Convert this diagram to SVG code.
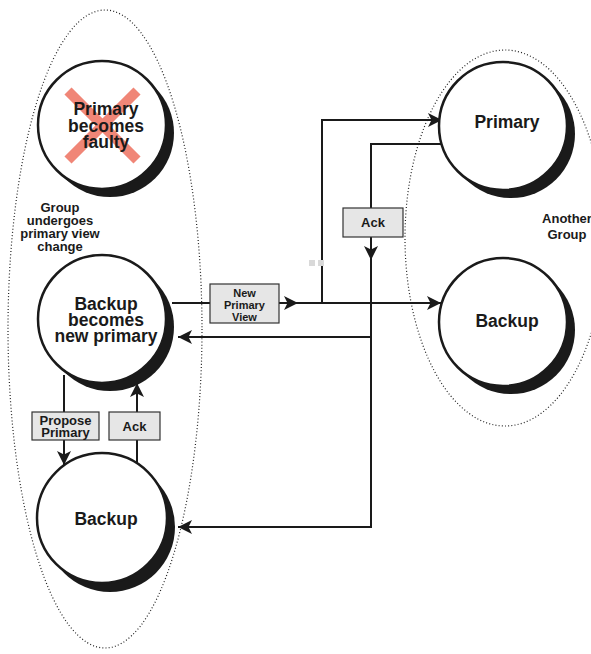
<svg xmlns="http://www.w3.org/2000/svg" width="591" height="654" viewBox="0 0 591 654">
<defs>
<style>
.grp{fill:none;stroke:#222;stroke-width:1.2;stroke-dasharray:1 2.2}
.shadow{fill:#1a1a1a}
.node{fill:#fff;stroke:#1a1a1a;stroke-width:2.5}
.big{font-family:"Liberation Sans",Arial,sans-serif;font-weight:bold;font-size:17.5px;fill:#1a1a1a;text-anchor:middle}
.mid{font-family:"Liberation Sans",Arial,sans-serif;font-weight:bold;font-size:13px;fill:#1a1a1a;text-anchor:middle}
.sml{font-family:"Liberation Sans",Arial,sans-serif;font-weight:bold;font-size:11px;fill:#1a1a1a;text-anchor:middle}
.box{fill:#e6e6e6;stroke:#333;stroke-width:1.2}
.ln{fill:none;stroke:#1a1a1a;stroke-width:2}
</style>
<marker id="ah" viewBox="0 0 10 10" refX="10" refY="5" markerWidth="8" markerHeight="7" markerUnits="strokeWidth" orient="auto">
<path d="M0,0 L10,5 L0,10 L2.5,5 z" fill="#1a1a1a"/>
</marker>
</defs>
<rect width="591" height="654" fill="#fff"/>

<g id="group-left">
<ellipse class="grp" cx="105" cy="329" rx="97" ry="319"/>
<text class="mid" x="60" y="212">Group</text>
<text class="mid" x="60" y="225">undergoes</text>
<text class="mid" x="60" y="238">primary view</text>
<text class="mid" x="60" y="251">change</text>
</g>
<g id="group-right">
<ellipse class="grp" cx="505" cy="238" rx="100" ry="188"/>
<text class="mid" x="567" y="223">Another</text>
<text class="mid" x="567" y="239">Group</text>
</g>

<g id="connectors">
<line class="ln" x1="64" y1="375" x2="64" y2="465" marker-end="url(#ah)"/>
<line class="ln" x1="137" y1="466" x2="137" y2="383" marker-end="url(#ah)"/>
<line class="ln" x1="172" y1="303" x2="298" y2="303" marker-end="url(#ah)"/>
<line class="ln" x1="296" y1="303" x2="441" y2="303" marker-end="url(#ah)"/>
<polyline class="ln" points="322,303 322,120 442,120" marker-end="url(#ah)"/>
<polyline class="ln" points="441,144 371,144 371,260" marker-end="url(#ah)"/>
<polyline class="ln" points="371,258 371,527 178,527" marker-end="url(#ah)"/>
<line class="ln" x1="371" y1="337" x2="178" y2="337" marker-end="url(#ah)"/>
</g>

<g id="label-propose">
<rect class="box" x="32" y="412" width="67" height="28"/>
<text class="mid" x="65.5" y="424.5">Propose</text>
<text class="mid" x="65.5" y="437">Primary</text>
</g>
<g id="label-ack-left">
<rect class="box" x="109" y="412" width="51" height="28"/>
<text class="mid" x="134.5" y="431">Ack</text>
</g>
<g id="label-newview">
<rect class="box" x="210" y="284" width="69" height="39"/>
<text class="sml" x="244.5" y="297">New</text>
<text class="sml" x="244.5" y="309">Primary</text>
<text class="sml" x="244.5" y="321">View</text>
</g>
<g id="label-ack-right">
<rect class="box" x="343" y="208" width="60" height="29"/>
<text class="mid" x="373" y="227">Ack</text>
</g>

<g id="node-faulty">
<circle class="shadow" cx="110" cy="133" r="64"/>
<circle class="node" cx="102" cy="125" r="64"/>
<g stroke="#f08070" stroke-width="10" opacity="0.95">
<line x1="68" y1="91" x2="137" y2="160"/>
<line x1="137" y1="91" x2="68" y2="160"/>
</g>
<text class="big" x="106" y="115">Primary</text>
<text class="big" x="106" y="131.5">becomes</text>
<text class="big" x="106" y="148">faulty</text>
</g>

<g id="node-newprimary">
<circle class="shadow" cx="110" cy="327" r="64"/>
<circle class="node" cx="102" cy="319" r="64"/>
<text class="big" x="106" y="310">Backup</text>
<text class="big" x="106" y="326">becomes</text>
<text class="big" x="106" y="342">new primary</text>
</g>

<g id="node-backup-left">
<circle class="shadow" cx="110" cy="527" r="65"/>
<circle class="node" cx="102" cy="518" r="65"/>
<text class="big" x="106" y="525">Backup</text>
</g>

<g id="node-primary-right">
<circle class="shadow" cx="511" cy="134" r="64"/>
<circle class="node" cx="503" cy="126" r="64"/>
<text class="big" x="507" y="128">Primary</text>
</g>

<g id="node-backup-right">
<circle class="shadow" cx="511" cy="330" r="64"/>
<circle class="node" cx="503" cy="322" r="64"/>
<text class="big" x="507" y="327">Backup</text>
</g>

<g id="marks" fill="#d9d9d9">
<rect x="309" y="260" width="6" height="6"/>
<rect x="318" y="260" width="6" height="6"/>
</g>
</svg>
